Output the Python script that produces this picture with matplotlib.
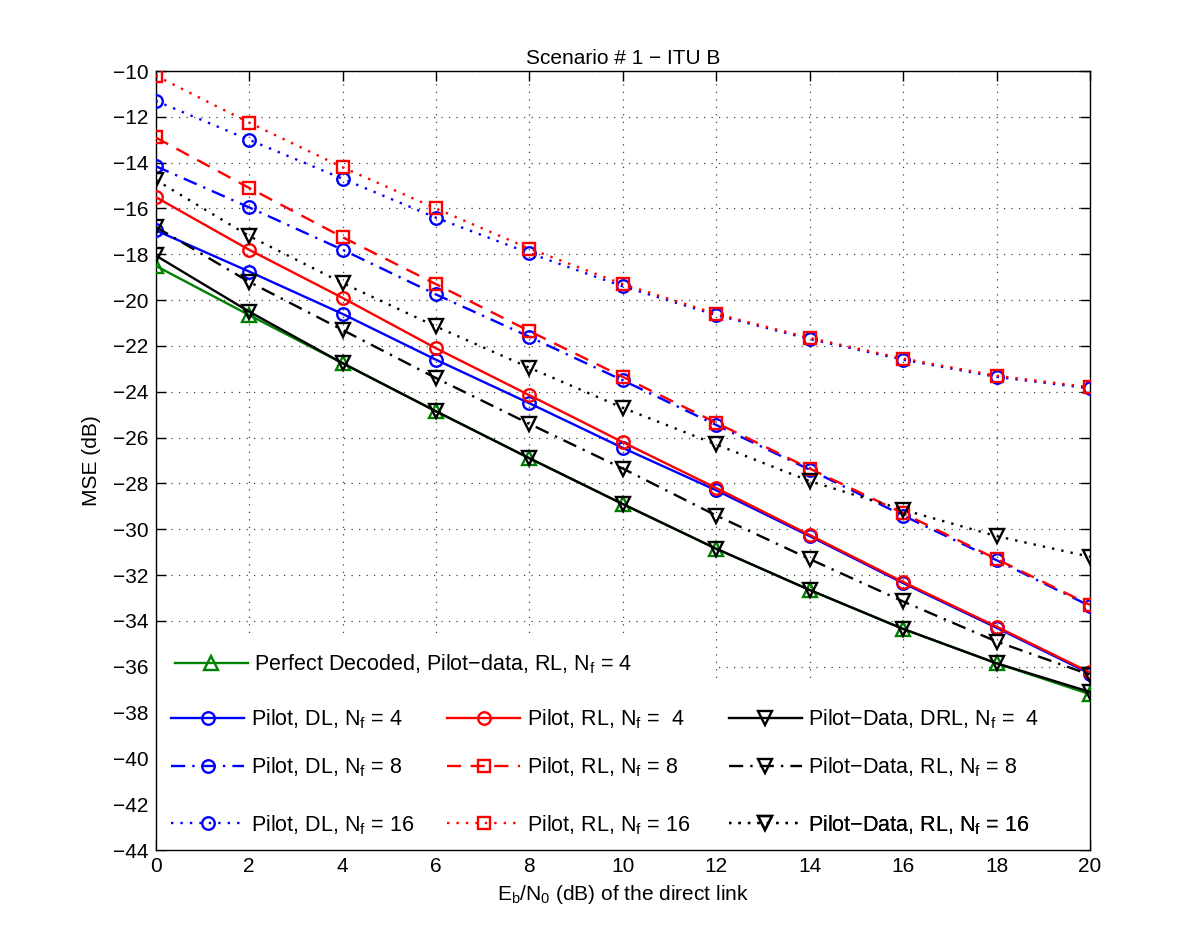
import numpy as np
from matplotlib import pyplot as plt
from matplotlib import patches

plt.rcParams['font.family'] = ['Liberation Sans', 'DejaVu Sans']
plt.rcParams['font.size'] = 15
plt.rcParams['axes.unicode_minus'] = True

# Eb/N0 of the direct link, dB
snr = [0, 2, 4, 6, 8, 10, 12, 14, 16, 18, 20]

# MSE in dB
perfect_rl4 = [-18.5, -20.65, -22.75, -24.85, -26.9, -28.9, -30.85, -32.65, -34.35, -35.85, -37.2]
pilot_dl4 = [-16.95, -18.75, -20.6, -22.6, -24.5, -26.45, -28.3, -30.3, -32.35, -34.3, -36.3]
pilot_rl4 = [-15.5, -17.8, -19.9, -22.1, -24.15, -26.2, -28.2, -30.25, -32.3, -34.25, -36.25]
pdata_drl4 = [-18.05, -20.5, -22.75, -24.85, -26.9, -28.9, -30.85, -32.65, -34.35, -35.85, -37.1]
pilot_dl8 = [-14.15, -15.95, -17.8, -19.75, -21.6, -23.5, -25.45, -27.4, -29.4, -31.35, -33.35]
pilot_rl8 = [-12.9, -15.1, -17.25, -19.3, -21.35, -23.35, -25.35, -27.35, -29.3, -31.3, -33.3]
pdata_rl8 = [-16.8, -19.2, -21.3, -23.4, -25.4, -27.35, -29.4, -31.3, -33.15, -34.9, -36.35]
pilot_dl16 = [-11.3, -13.0, -14.7, -16.4, -17.95, -19.4, -20.65, -21.7, -22.6, -23.35, -23.85]
pilot_rl16 = [-10.2, -12.25, -14.2, -16.0, -17.75, -19.3, -20.6, -21.65, -22.55, -23.3, -23.8]
pdata_rl16 = [-14.75, -17.2, -19.25, -21.15, -22.95, -24.7, -26.3, -27.9, -29.15, -30.3, -31.2]

nf = r'$\mathregular{N_f}$'
labels = [
    'Perfect Decoded, Pilot\u2212data, RL, ' + nf + ' = 4',
    'Pilot, DL, ' + nf + ' = 4',
    'Pilot, RL, ' + nf + ' =  4',
    'Pilot\u2212Data, DRL, ' + nf + ' =  4',
    'Pilot, DL, ' + nf + ' = 8',
    'Pilot, RL, ' + nf + ' = 8',
    'Pilot\u2212Data, RL, ' + nf + ' = 8',
    'Pilot, DL, ' + nf + ' = 16',
    'Pilot, RL, ' + nf + ' = 16',
    'Pilot\u2212Data, RL, ' + nf + ' = 16',
]

green = (0, 0.5, 0)
dotted = (0, (1, 3))
dashed = (0, (6, 4))
dashdot = (0, (6, 3, 1, 3))
msize = {'o': 9, 's': 8.5, '^': 10, 'v': 10}

series = [
    (perfect_rl4, green, '-', '^'),
    (pilot_dl4, 'b', '-', 'o'),
    (pilot_rl4, 'r', '-', 'o'),
    (pdata_drl4, 'k', '-', 'v'),
    (pilot_dl8, 'b', dashdot, 'o'),
    (pilot_rl8, 'r', dashed, 's'),
    (pdata_rl8, 'k', dashdot, 'v'),
    (pilot_dl16, 'b', dotted, 'o'),
    (pilot_rl16, 'r', dotted, 's'),
    (pdata_rl16, 'k', dotted, 'v'),
]

fig = plt.figure(figsize=(12, 9.47), dpi=100)
ax = fig.add_axes([0.1297, 0.1024, 0.7786, 0.8226])

handles = []
for vals, col, ls, mk in series:
    h, = ax.plot(snr, vals, color=col, linestyle=ls, marker=mk, lw=1.7,
                 markersize=msize[mk], mfc='none', mew=1.7, zorder=3)
    handles.append(h)

ax.set_xlim(0, 20)
ax.set_ylim(-44, -10)
ax.set_xticks(np.arange(0, 21, 2))
ax.set_yticks(np.arange(-44, -9, 2))
ax.set_axisbelow(True)
ax.grid(True, color='0.25', linestyle=(0, (1, 5)), lw=0.9)
ax.tick_params(direction='in', top=True, right=True, length=7, width=1, pad=5)
for sp in ax.spines.values():
    sp.set_linewidth(1)

# white background behind the legends
ax.add_patch(patches.Rectangle((0, -44), 12, 9.2, facecolor='white',
                               edgecolor='none', zorder=1))
ax.add_patch(patches.Rectangle((0, -44), 20, 7.3, facecolor='white',
                               edgecolor='none', zorder=1))

# legend entries: (handle index, x of line start, y of row)
spots = [
    (0, 0.41, -35.9),
    (1, 0.33, -38.3), (2, 6.24, -38.3), (3, 12.27, -38.3),
    (4, 0.33, -40.4), (5, 6.24, -40.4), (6, 12.27, -40.4),
    (7, 0.33, -42.9), (8, 6.24, -42.9), (9, 12.27, -42.9),
]
for i, x0, y0 in spots:
    lg = ax.legend([handles[i]], [labels[i]], loc='center left',
                   bbox_to_anchor=(x0, y0), bbox_transform=ax.transData,
                   frameon=False, borderpad=0, borderaxespad=0,
                   handlelength=3.4, handletextpad=0.3, fontsize=15.5)
    ax.add_artist(lg)

ax.set_title('Scenario # 1 \u2212 ITU B', fontsize=15, pad=5)
ax.set_xlabel(r'$\mathregular{E_b/N_0}$ (dB) of the direct link', fontsize=15, labelpad=5)
ax.set_ylabel('MSE (dB)', fontsize=15, labelpad=9)

fig.savefig('out.png', dpi=100)
